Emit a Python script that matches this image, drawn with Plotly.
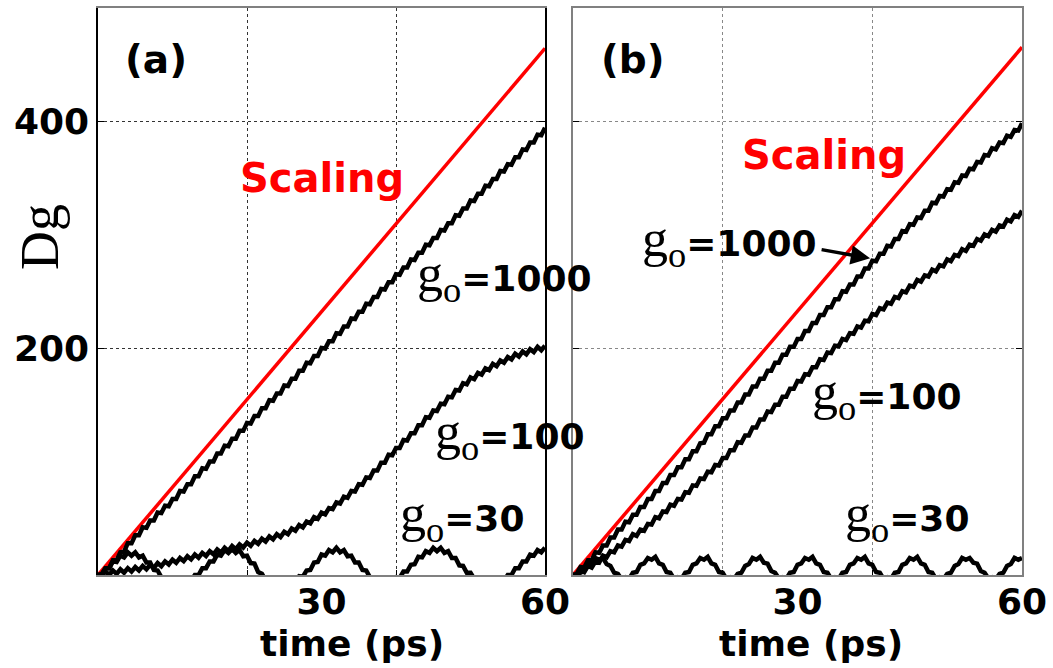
import plotly.graph_objects as go

# ---------------- data ----------------
# sample times: integer ps (local maxima of the small ripple) and half-integer ps (ripple minima)
time_int = list(range(0, 61))
time_half = [i + 0.5 for i in range(0, 60)]

scaling_t = [0, 60]
scaling_a = [0, 464]
scaling_b = [0, 465]

# panel (a)
a1000_int = [0, 6, 13, 20, 28, 35, 42, 48, 55, 61, 67, 74, 80, 87, 94, 100, 107, 114, 120, 127,
             134, 140, 147, 154, 160, 167, 173, 180, 187, 193, 200, 206, 213, 219, 226, 232, 239, 245,
             252, 258, 265, 271, 278, 284, 291, 297, 304, 310, 317, 323, 330, 336, 343, 349, 356, 362,
             368, 375, 381, 388, 394]
a1000_half = [1, 6, 13, 20.5, 28, 35, 41.5, 48, 54.5, 60.5, 67, 73.5, 80, 87, 93.5, 100, 107, 113.5,
              120, 127, 133.5, 140, 147, 153.5, 160, 166.5, 173, 180, 186.5, 193, 199.5, 206, 212.5,
              219, 225.5, 232, 238.5, 245, 251.5, 258, 264.5, 271, 277.5, 284, 290.5, 297, 303.5, 310,
              316.5, 323, 329.5, 336, 342.5, 349, 355.5, 361.5, 368, 374.5, 381, 387.5]

a100_int = [0, 3, 4, 5, 6, 7, 8, 9, 10.5, 12, 13.5, 15, 16.5, 18, 19.5, 21, 22.5, 24, 25.5, 27, 28.5,
            30, 32, 34, 36, 38, 41, 44, 47, 51, 55, 59, 64, 69, 74, 80, 86, 92, 99, 106, 112, 119, 125,
            132, 139, 145, 151, 157, 163, 169, 174, 178, 182, 186, 189, 192, 195, 197, 199, 201, 202]
a100_half = [0, 0, 1, 2, 3, 4, 5, 6.25, 7.75, 9.25, 10.75, 12.25, 13.75, 15.25, 16.75, 18.25, 19.75,
             21.25, 22.75, 24.25, 25.75, 27.5, 29.5, 31.5, 33.5, 36, 39, 42, 45.5, 49.5, 53.5, 58, 63,
             68, 73.5, 79.5, 85.5, 92, 99, 105.5, 112, 118.5, 125, 132, 138.5, 144.5, 150.5, 156.5,
             162.5, 168, 172.5, 176.5, 180.5, 184, 187, 190, 192.5, 194.5, 196.5, 198]

a30_int = [0, 6, 12, 17, 20, 20, 17, 11, 4, -2, -5, -6, -4, 0, 6, 12, 18, 22, 23, 22, 17, 10, 1, -4,
           -6, -6, -4, -1, 4, 11, 18, 22, 24, 22, 17, 11, 4, -2, -5, -5, -2, 3, 9, 16, 21, 24, 24, 21,
           15, 8, 2, -3, -6, -6, -4, 0, 6, 12, 18, 22, 24]
a30_half = [0, 6, 11.5, 15.5, 17, 15.5, 11, 4.5, -2, -6.5, -8.5, -8, -5, 0, 6, 12, 17, 19.5, 19.5,
            16.5, 10.5, 2.5, -4.5, -8, -9, -8, -5.5, -1.5, 4.5, 11.5, 17, 20, 20, 16.5, 11, 4.5, -2,
            -6.5, -8, -6.5, -2.5, 3, 9.5, 15.5, 19.5, 21, 19.5, 15, 8.5, 2, -3.5, -7.5, -9, -8, -5, 0,
            6, 12, 17, 20]

# panel (b)
b1000_int = [0, 7, 13, 20, 26, 33, 40, 47, 53, 60, 67, 74, 81, 88, 95, 102, 109, 116, 124, 131, 138,
             145, 152, 159, 166, 173, 180, 187, 194, 201, 208, 215, 222, 229, 236, 243, 250, 256, 263,
             270, 277, 283, 290, 296, 303, 309, 315, 321, 328, 334, 340, 346, 352, 358, 364, 370, 376,
             381, 387, 392, 398]
b1000_half = [1, 6.5, 13, 19.5, 26, 33, 40, 46.5, 53, 60, 67, 74, 81, 88, 95, 102, 109, 116.5, 124,
              131, 138, 145, 152, 159, 166, 173, 180, 187, 194, 201, 208, 215, 222, 229, 236, 243,
              249.5, 256, 263, 270, 276.5, 283, 289.5, 296, 302.5, 308.5, 314.5, 321, 327.5, 333.5,
              339.5, 345.5, 351.5, 357.5, 363.5, 369.5, 375, 380.5, 386, 391.5]

b100_int = [0, 4, 8, 12, 17, 21, 26, 31, 36, 40, 45, 51, 56, 62, 67, 73, 79, 85, 91, 97, 103, 110,
            117, 123, 130, 137, 144, 150, 157, 164, 171, 177, 183, 190, 196, 202, 208, 213, 219, 224,
            230, 235, 240, 245, 250, 255, 260, 264, 269, 273, 278, 282, 287, 291, 296, 300, 304, 308,
            313, 317, 321]
b100_half = [0, 2.5, 6.5, 11, 15.5, 20, 25, 30, 34.5, 39, 44.5, 50, 55.5, 61, 66.5, 72.5, 78.5, 84.5,
             90.5, 96.5, 103, 110, 116.5, 123, 130, 137, 143.5, 150, 157, 164, 170.5, 176.5, 183,
             189.5, 195.5, 201.5, 207, 212.5, 218, 223.5, 229, 234, 239, 244, 249, 254, 258.5, 263,
             267.5, 272, 276.5, 281, 285.5, 290, 294.5, 298.5, 302.5, 307, 311.5, 315.5]

b30_int = [0, 2, 10, 15, 15, 8, 1, -2, 2, 9, 15, 16, 9, 2, -2, 2, 9, 15, 16, 9, 2, -2, 1, 8, 15, 16,
           10, 2, -2, 2, 9, 15, 16, 9, 2, -2, 2, 9, 15, 16, 9, 2, -2, 2, 9, 15, 16, 9, 2, -2, 1, 8,
           15, 15, 10, 2, -2, 1, 8, 15, 15]
b30_half = [0, 3.5, 10.8, 13.5, 9.6, 2, -3.8, -3.5, 2.7, 10.2, 13.5, 10.2, 2.7, -3.5, -3.5, 2.7,
            10.2, 13.5, 10.2, 2.7, -3.5, -3.8, 2, 9.6, 13.5, 10.8, 3.5, -3, -3.5, 2.7, 10.2, 13.5,
            10.2, 2.7, -3.5, -3.5, 2.7, 10.2, 13.5, 10.2, 2.7, -3.5, -3.5, 2.7, 10.2, 13.5, 10.2, 2.7,
            -3.5, -3.8, 2, 9.6, 13.5, 10.8, 3.5, -3, -3.8, 2, 9.6, 13.5]

x_tick_vals = [30, 60]
x_tick_text = ["30", "60"]
x_grid_vals = [20, 40]
y_tick_vals = [200, 400]
y_tick_text = ["200", "400"]


def merge(vals_int, vals_half):
    xs, ys = [], []
    for i, v in enumerate(vals_int):
        xs.append(time_int[i])
        ys.append(v)
        if i < len(vals_half):
            xs.append(time_half[i])
            ys.append(vals_half[i])
    return xs, ys


fig = go.Figure()

RED = "#ff0000"
BLACK = "#000000"

# panel a
fig.add_trace(go.Scatter(x=scaling_t, y=scaling_a, mode="lines", line=dict(color=RED, width=3.5),
                         xaxis="x", yaxis="y", showlegend=False))
for vi, vh in [(a1000_int, a1000_half), (a100_int, a100_half), (a30_int, a30_half)]:
    xs, ys = merge(vi, vh)
    fig.add_trace(go.Scatter(x=xs, y=ys, mode="lines", line=dict(color=BLACK, width=4.5),
                             xaxis="x", yaxis="y", showlegend=False))

# panel b
fig.add_trace(go.Scatter(x=scaling_t, y=scaling_b, mode="lines", line=dict(color=RED, width=3.5),
                         xaxis="x2", yaxis="y2", showlegend=False))
for vi, vh in [(b1000_int, b1000_half), (b100_int, b100_half), (b30_int, b30_half)]:
    xs, ys = merge(vi, vh)
    fig.add_trace(go.Scatter(x=xs, y=ys, mode="lines", line=dict(color=BLACK, width=4.5),
                             xaxis="x2", yaxis="y2", showlegend=False))

W, H = 1053, 668
SANS = "DejaVu Sans"
SERIF = "Liberation Serif"
tickfont = dict(family=SANS, size=36, color="black", weight="bold")

ydom = [(668 - 575) / H, (668 - 7.5) / H]


def xaxis_cfg(domain, linecolor, gridcolor):
    return dict(domain=domain, range=[0, 60], tickmode="array", tickvals=x_tick_vals,
                ticktext=x_tick_text, tickfont=tickfont, showgrid=False, zeroline=False,
                showline=True, linecolor=linecolor, linewidth=2, mirror=True, ticks="",
                ticklabelstandoff=-6, automargin=False,
                minor=dict(tickmode="array", tickvals=x_grid_vals, showgrid=True, gridcolor=gridcolor,
                           griddash="dot", gridwidth=1, ticks="inside", ticklen=5, tickcolor="black"))


def yaxis_cfg(anchor, linecolor, gridcolor, labels):
    return dict(domain=ydom, range=[0, 500], anchor=anchor, tickmode="array", tickvals=y_tick_vals,
                ticktext=y_tick_text, tickfont=tickfont, showticklabels=labels, showgrid=True,
                gridcolor=gridcolor, griddash="dot", gridwidth=1, zeroline=False, showline=True,
                linecolor=linecolor, linewidth=1.5, mirror="ticks", ticks="inside", ticklen=6,
                tickcolor="black", automargin=False)


fig.update_layout(
    width=W, height=H, autosize=False, margin=dict(l=0, r=0, t=0, b=0, pad=0),
    paper_bgcolor="white", plot_bgcolor="white", showlegend=False,
    xaxis=dict(**xaxis_cfg([98 / W, 545 / W], "#808080", "#333333"), anchor="y"),
    yaxis=yaxis_cfg("x", "black", "#333333", True),
    xaxis2=dict(**xaxis_cfg([573 / W, 1022 / W], "#808080", "#888888"), anchor="y2"),
    yaxis2=yaxis_cfg("x2", "#808080", "#888888", False),
)


def glabel(sub, num):
    return ("g<sub>" + sub + "</sub><span style=\"font-family:DejaVu Sans;font-weight:bold;"
            "font-size:36px\">" + num + "</span>")


annots = []
# panel labels
annots.append(dict(xref="x", yref="y", x=7.8, y=454, text="<b>(a)</b>", showarrow=False,
                   font=dict(family=SANS, size=39, color="black"), xanchor="center", yanchor="middle"))
annots.append(dict(xref="x2", yref="y2", x=8.0, y=454, text="<b>(b)</b>", showarrow=False,
                   font=dict(family=SANS, size=39, color="black"), xanchor="center", yanchor="middle"))
# Scaling labels
annots.append(dict(xref="x", yref="y", x=30, y=350, text="<b>Scaling</b>", showarrow=False,
                   font=dict(family=SANS, size=40, color=RED), xanchor="center", yanchor="middle"))
annots.append(dict(xref="x2", yref="y2", x=33.6, y=370, text="<b>Scaling</b>", showarrow=False,
                   font=dict(family=SANS, size=40, color=RED), xanchor="center", yanchor="middle"))
# g0 labels
gfont = dict(family=SERIF, size=52, color="black")
for xr, yr, xx, yy, num in [("x", "y", 42.5, 262, "=1000"), ("x", "y", 45.0, 123, "=100"),
                             ("x", "y", 40.3, 51, "=30"), ("x2", "y2", 9.0, 293, "=1000"),
                             ("x2", "y2", 31.7, 158, "=100"), ("x2", "y2", 36.1, 51, "=30")]:
    annots.append(dict(xref=xr, yref=yr, x=xx, y=yy, text=glabel("o", num), showarrow=False,
                       font=gfont, xanchor="left", yanchor="middle"))
# arrow in panel b
annots.append(dict(xref="x2", yref="y2", x=39.7, y=279, ax=-50, ay=-9, text="", showarrow=True,
                   arrowhead=2, arrowsize=1.1, arrowwidth=3.5, arrowcolor="black"))
# axis titles
for xc in [352 / W, 811 / W]:
    annots.append(dict(xref="paper", yref="paper", x=xc, y=1 - 643 / H, text="<b>time (ps)</b>",
                       showarrow=False, font=dict(family=SANS, size=36, color="black"),
                       xanchor="center", yanchor="middle"))
annots.append(dict(xref="paper", yref="paper", x=40 / W, y=1 - 237 / H, text="Dg", textangle=-90,
                   showarrow=False, font=dict(family=SERIF, size=54, color="black"),
                   xanchor="center", yanchor="middle"))
fig.update_layout(annotations=annots)

fig.write_html("out.html", config={"responsive": False})
